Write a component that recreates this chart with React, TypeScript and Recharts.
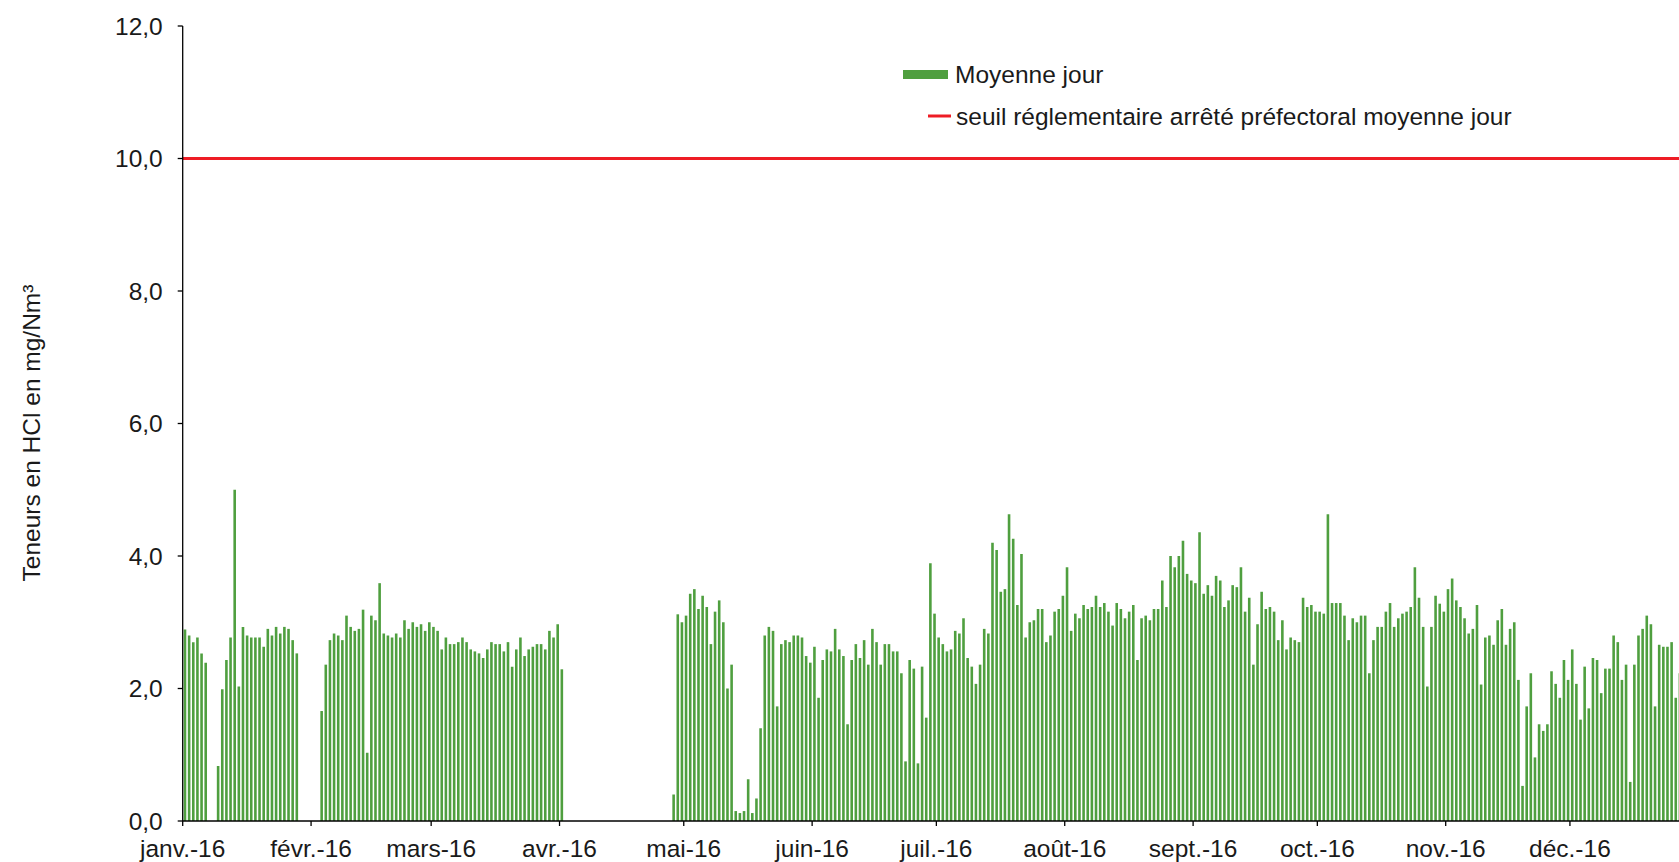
import React from 'react';
import { BarChart, Bar, XAxis, YAxis, ReferenceLine, Legend } from 'recharts';

const monthLabels = ['janv.-16', 'févr.-16', 'mars-16', 'avr.-16', 'mai-16', 'juin-16', 'juil.-16', 'août-16', 'sept.-16', 'oct.-16', 'nov.-16', 'déc.-16'];
const monthStarts = [0, 31, 60, 91, 121, 152, 182, 213, 244, 274, 305, 335];
const yTicks = [0, 2, 4, 6, 8, 10, 12];
const seuil = 10;

const janv = [2.89, 2.8, 2.7, 2.77, 2.53, 2.39, null, null, 0.83, 1.99, 2.43, 2.77, 5.0, 2.03, 2.93, 2.8, 2.77, 2.77, 2.77, 2.63, 2.9, 2.8, 2.93, 2.83, 2.93, 2.9, 2.73, 2.53, null, null, null];
const fevr = [null, null, 1.66, 2.36, 2.73, 2.83, 2.8, 2.73, 3.1, 2.93, 2.87, 2.9, 3.19, 1.03, 3.1, 3.03, 3.59, 2.83, 2.8, 2.77, 2.83, 2.77, 3.03, 2.9, 3.0, 2.93, 2.97, 2.87, 3.0];
const mars = [2.93, 2.87, 2.59, 2.77, 2.67, 2.67, 2.7, 2.77, 2.7, 2.59, 2.56, 2.53, 2.46, 2.59, 2.7, 2.67, 2.67, 2.56, 2.7, 2.33, 2.59, 2.77, 2.49, 2.59, 2.63, 2.67, 2.67, 2.59, 2.87, 2.77, 2.97];
const avr = [2.29, null, null, null, null, null, null, null, null, null, null, null, null, null, null, null, null, null, null, null, null, null, null, null, null, null, null, 0.4, 3.12, 3.0];
const mai = [3.1, 3.43, 3.5, 3.2, 3.4, 3.23, 2.67, 3.16, 3.33, 3.0, 2.0, 2.36, 0.15, 0.12, 0.15, 0.63, 0.12, 0.34, 1.4, 2.8, 2.93, 2.87, 1.73, 2.67, 2.73, 2.7, 2.8, 2.8, 2.77, 2.49, 2.39];
const juin = [2.63, 1.86, 2.43, 2.59, 2.56, 2.9, 2.59, 2.49, 1.46, 2.43, 2.67, 2.46, 2.73, 2.36, 2.9, 2.7, 2.36, 2.67, 2.67, 2.56, 2.56, 2.23, 0.9, 2.43, 2.3, 0.87, 2.33, 1.56, 3.89, 3.13];
const juil = [2.77, 2.67, 2.56, 2.59, 2.87, 2.83, 3.06, 2.46, 2.33, 2.07, 2.36, 2.9, 2.83, 4.2, 4.09, 3.46, 3.5, 4.63, 4.26, 3.26, 4.03, 2.77, 3.0, 3.03, 3.2, 3.2, 2.7, 2.8, 3.16, 3.2, 3.4];
const aout = [3.83, 2.87, 3.13, 3.06, 3.26, 3.2, 3.23, 3.4, 3.23, 3.29, 3.16, 2.95, 3.29, 3.2, 3.06, 3.16, 3.26, 2.43, 3.06, 3.1, 3.03, 3.2, 3.2, 3.63, 3.23, 4.0, 3.83, 4.0, 4.23, 3.73, 3.63];
const sept = [3.59, 4.36, 3.43, 3.56, 3.4, 3.7, 3.63, 3.23, 3.33, 3.56, 3.53, 3.83, 3.16, 3.37, 2.36, 2.97, 3.46, 3.2, 3.23, 3.16, 2.73, 3.03, 2.59, 2.77, 2.73, 2.7, 3.37, 3.23, 3.26, 3.16];
const oct = [3.16, 3.13, 4.63, 3.29, 3.29, 3.29, 3.1, 2.73, 3.06, 3.0, 3.1, 3.1, 2.23, 2.73, 2.93, 2.93, 3.16, 3.29, 2.93, 3.06, 3.13, 3.16, 3.23, 3.83, 3.37, 2.93, 2.03, 2.93, 3.4, 3.28, 3.16];
const nov = [3.5, 3.66, 3.33, 3.23, 3.06, 2.83, 2.9, 3.26, 2.06, 2.77, 2.8, 2.66, 3.03, 3.2, 2.66, 2.9, 3.0, 2.13, 0.53, 1.73, 2.23, 0.96, 1.46, 1.36, 1.46, 2.26, 2.07, 1.86, 2.43, 2.13];
const dec = [2.59, 2.07, 1.53, 2.33, 1.7, 2.46, 2.43, 1.93, 2.3, 2.3, 2.8, 2.7, 2.13, 2.36, 0.59, 2.36, 2.8, 2.9, 3.1, 2.97, 1.73, 2.66, 2.63, 2.63, 2.7, 1.86, 2.23, null, null, null, null];

const allDays = [...janv, ...fevr, ...mars, ...avr, ...mai, ...juin, ...juil, ...aout, ...sept, ...oct, ...nov, ...dec];
const data = allDays.map((v, i) => ({ x: i + 0.5, v }));

const FONT = '"Liberation Sans", Arial, sans-serif';
const FS = 24.5;
const TXT = '#1a1a1a';
const GREEN = '#4f9f3f';
const RED = '#ee1c25';

const fmtY = (v: number) => v.toFixed(1).replace('.', ',');

const XTick = (props: any) => {
  const { x, y, payload } = props;
  const idx = monthStarts.indexOf(payload.value);
  return (
    <text x={x} y={y} dy={31} textAnchor="middle" fontFamily={FONT} fontSize={FS} fill={TXT}>
      {idx >= 0 ? monthLabels[idx] : ''}
    </text>
  );
};

const YTick = (props: any) => {
  const { x, y, payload } = props;
  return (
    <text x={x} y={y} dy={FS * 0.36} textAnchor="end" fontFamily={FONT} fontSize={FS} fill={TXT}>
      {fmtY(payload.value)}
    </text>
  );
};

const renderLegend = () => (
  <svg width={640} height={110} style={{ display: 'block', overflow: 'visible' }}>
    <rect x={0} y={20} width={45} height={9} fill={GREEN} />
    <text x={52} y={24.5} dy={FS * 0.36} fontFamily={FONT} fontSize={FS} fill={TXT}>Moyenne jour</text>
    <line x1={25} x2={48} y1={66} y2={66} stroke={RED} strokeWidth={3} />
    <text x={53} y={66} dy={FS * 0.36} fontFamily={FONT} fontSize={FS} fill={TXT}>seuil réglementaire arrêté préfectoral moyenne jour</text>
  </svg>
);

const YTitle = () => (
  <text
    x={31}
    y={433}
    transform="rotate(-90 31 433)"
    textAnchor="middle"
    dy={FS * 0.36}
    fontFamily={FONT}
    fontSize={FS}
    fill={TXT}
  >
    Teneurs en HCl en mg/Nm³
  </text>
);

export default function App() {
  return (
    <div style={{ position: 'fixed', left: 0, top: 0, width: 1679, height: 862, overflow: 'hidden', background: '#fff' }}>
      <BarChart
        width={1720}
        height={862}
        data={data}
        margin={{ top: 26, right: 21.7, bottom: 11, left: 122.7 }}
        barGap={0}
      >
        <XAxis
          dataKey="x"
          type="number"
          scale="linear"
          domain={[0, 366]}
          ticks={monthStarts}
          interval={0}
          height={30}
          tickSize={5}
          tickMargin={0}
          axisLine={{ stroke: '#000', strokeWidth: 1.3 }}
          tickLine={{ stroke: '#000', strokeWidth: 1.3 }}
          tick={<XTick />}
          allowDataOverflow
        />
        <YAxis
          type="number"
          domain={[0, 12]}
          ticks={yTicks}
          interval={0}
          width={60}
          tickSize={5}
          tickMargin={15}
          axisLine={{ stroke: '#000', strokeWidth: 1.3 }}
          tickLine={{ stroke: '#000', strokeWidth: 1.3 }}
          tick={<YTick />}
          label={{ content: () => <YTitle /> }}
        />
        <Legend
          layout="vertical"
          align="center"
          verticalAlign="middle"
          content={renderLegend}
          wrapperStyle={{ left: 903, top: 50, width: 640, height: 110 }}
        />
        <Bar dataKey="v" fill={GREEN} barSize={2.6} isAnimationActive={false} />
        <ReferenceLine y={seuil} stroke={RED} strokeWidth={3} ifOverflow="extendDomain" />
      </BarChart>
    </div>
  );
}
